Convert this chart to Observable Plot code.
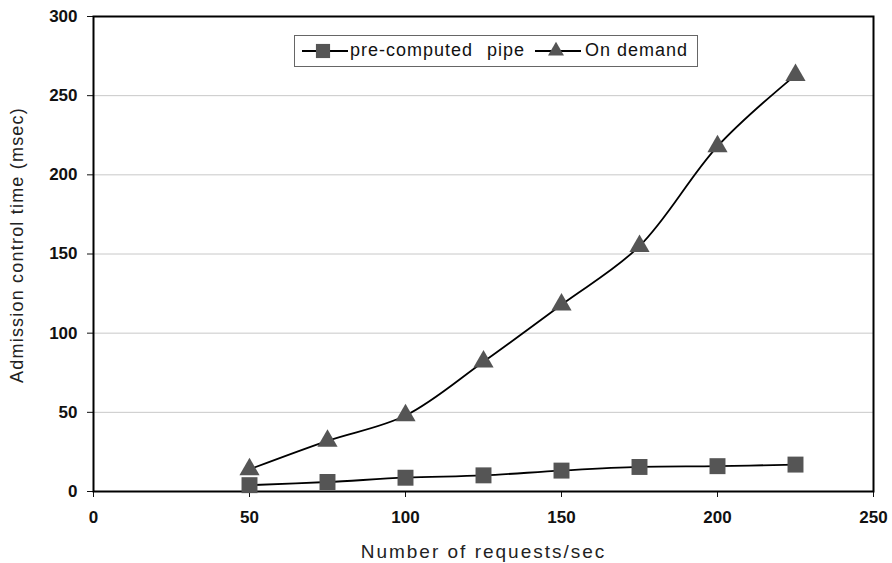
<!DOCTYPE html>
<html>
<head>
<meta charset="utf-8">
<script src="https://cdn.jsdelivr.net/npm/d3@7"></script>
<script src="https://cdn.jsdelivr.net/npm/@observablehq/plot@0.6"></script>
<style>
  html, body { margin: 0; padding: 0; background: #fff; }
  #wrap { position: relative; width: 892px; height: 563px; font-family: "Liberation Sans", Arial, sans-serif; }
  #legend {
    position: absolute; left: 294px; top: 35px; width: 404px; height: 32px;
    border: 1.5px solid #666; background: #fff; box-sizing: border-box;
    font-size: 18px; color: #111; letter-spacing: 1px;
  }
  #legend svg, #legend span { position: absolute; }
</style>
</head>
<body>
<div id="wrap">
  <div id="chart"></div>
  <div id="legend"></div>
</div>
<script>
// Requests per second on the x axis
const requests = [50, 75, 100, 125, 150, 175, 200, 225];
// Admission control time (msec) for each strategy
const precomputedPipe = [4, 6, 8.7, 10.2, 13.2, 15.5, 16, 17];
const onDemand = [14, 32, 48, 82, 118, 155, 218, 263];
const seriesNames = ["pre-computed pipe", "On demand"];
const xTicks = [0, 50, 100, 150, 200, 250];
const yTicks = [0, 50, 100, 150, 200, 250, 300];

const rows = [
  ...requests.map((x, i) => ({x, y: precomputedPipe[i], s: seriesNames[0]})),
  ...requests.map((x, i) => ({x, y: onDemand[i], s: seriesNames[1]}))
];
const pipeRows = rows.filter(d => d.s === seriesNames[0]);
const demandRows = rows.filter(d => d.s === seriesNames[1]);

const markerFill = "#555";

const chart = Plot.plot({
  width: 892,
  height: 563,
  marginLeft: 93,
  marginRight: 19,
  marginTop: 16,
  marginBottom: 72,
  style: {fontFamily: "Liberation Sans, Arial, sans-serif", background: "#fff", color: "#111"},
  x: {domain: [0, 250]},
  y: {domain: [0, 300]},
  marks: [
    Plot.gridY(yTicks.filter(t => t > 0 && t < 300), {stroke: "#c8c8c8", strokeOpacity: 1, strokeWidth: 1}),
    Plot.axisY(yTicks, {
      tickSize: 6, tickPadding: 10, fontSize: 17, fontWeight: "bold",
      label: "Admission control time (msec)", labelAnchor: "center", labelArrow: "none",
      labelOffset: 83
    }),
    Plot.axisX(xTicks, {
      tickSize: 6, tickPadding: 13, fontSize: 17, fontWeight: "bold",
      label: "Number of requests/sec", labelAnchor: "center", labelArrow: "none",
      labelOffset: 66
    }),
    Plot.frame({stroke: "#000", strokeWidth: 2}),
    Plot.line(pipeRows, {x: "x", y: "y", stroke: "#000", strokeWidth: 1.8, curve: "catmull-rom"}),
    Plot.line(demandRows, {x: "x", y: "y", stroke: "#000", strokeWidth: 1.8, curve: "catmull-rom"}),
    Plot.dot(pipeRows, {x: "x", y: "y", symbol: "square", r: 9, fill: markerFill, stroke: "none"}),
    Plot.dot(demandRows, {x: "x", y: "y", symbol: "triangle", r: 7.5, fill: markerFill, stroke: "none"})
  ]
});
document.getElementById("chart").appendChild(chart);

// Axis title styling
d3.select(chart).selectAll("[aria-label='y-axis label'] text")
  .attr("font-size", 18).attr("font-weight", "normal").attr("fill", "#222")
  .attr("dx", 9)
  .style("letter-spacing", "1.2px");
d3.select(chart).selectAll("[aria-label='x-axis label'] text")
  .attr("font-size", 19).attr("font-weight", "normal").attr("fill", "#222")
  .style("letter-spacing", "2px");

// Legend: line + marker swatch followed by the series name
const legend = d3.select("#legend");
const symbols = [d3.symbolSquare, d3.symbolTriangle];
const symbolSizes = [200, 110];
const swatchLeft = [6, 239];
const textLeft = [55, 290];
const wordSpacing = ["8px", "0px"];
seriesNames.forEach((name, i) => {
  const svg = legend.append("svg").attr("width", 48).attr("height", 22)
    .style("left", swatchLeft[i] + "px").style("top", "4px");
  svg.append("line").attr("x1", 1).attr("x2", 47).attr("y1", 11).attr("y2", 11)
    .attr("stroke", "#000").attr("stroke-width", 1.8);
  svg.append("path").attr("transform", "translate(22,11)")
    .attr("d", d3.symbol(symbols[i], symbolSizes[i])()).attr("fill", markerFill);
  legend.append("span").text(name)
    .style("left", textLeft[i] + "px").style("top", "4px")
    .style("word-spacing", wordSpacing[i]);
});
</script>
</body>
</html>
